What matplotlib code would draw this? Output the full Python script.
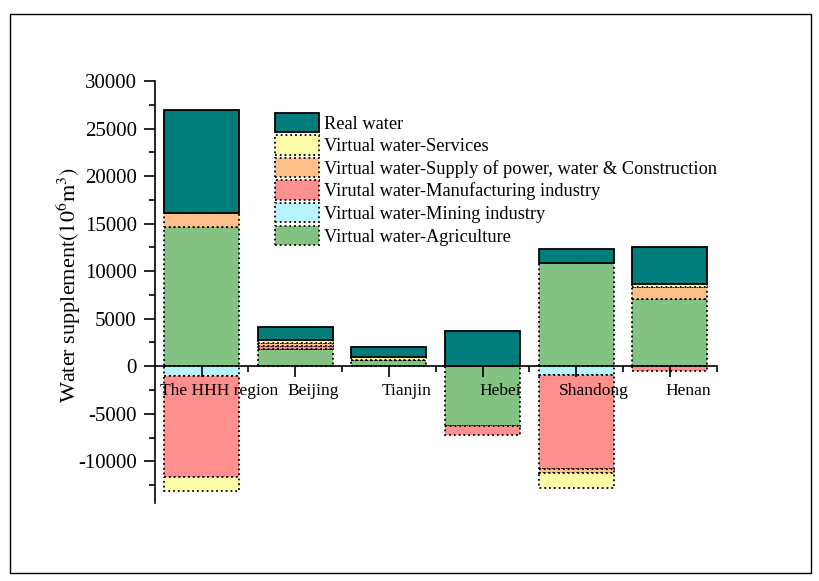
import matplotlib
matplotlib.use('Agg')
import matplotlib.pyplot as plt
import matplotlib.transforms as mtransforms
from matplotlib.patches import Patch, Rectangle
from matplotlib.ticker import MultipleLocator, FixedLocator
import numpy as np

plt.rcParams['font.family'] = 'Liberation Serif'
plt.rcParams['mathtext.fontset'] = 'stix'
plt.rcParams['axes.unicode_minus'] = False

# Water supplement by region (10^6 m^3)
categories = ['The HHH region', 'Beijing', 'Tianjin', 'Hebei', 'Shandong', 'Henan']
agriculture = [14600, 1800, 700, -6300, 10900, 7100]
mining = [-1000, 0, 0, 0, -950, 0]
manufacturing = [-10700, 350, 0, -950, -9900, -500]
supply = [1500, 300, 0, 0, -350, 1200]
services = [-1400, 350, 300, 0, -1600, 400]
real_water = [10900, 1300, 1000, 3700, 1400, 3800]

series = [
    ('Virtual water-Agriculture', agriculture, '#84c284', ':'),
    ('Virtual water-Mining industry', mining, '#b8f4fb', ':'),
    ('Virutal water-Manufacturing industry', manufacturing, '#fd8f8f', ':'),
    ('Virtual water-Supply of power, water & Construction', supply, '#fdc08a', ':'),
    ('Virtual water-Services', services, '#fdfca8', ':'),
    ('Real water', real_water, '#007c7a', '-'),
]

fig = plt.figure(figsize=(8.19, 5.81), dpi=100)
ax = fig.add_axes([0.189, 0.134, 0.686, 0.7266])

x = np.arange(1, len(categories) + 1)
pos_base = np.zeros(len(categories))
neg_base = np.zeros(len(categories))
handles = []
for label, vals, color, ls in series:
    v = np.array(vals, dtype=float)
    bottom = np.where(v >= 0, pos_base, neg_base)
    ax.bar(x, v, width=0.8, bottom=bottom, color=color, edgecolor='black',
           linewidth=1.3, linestyle=ls, zorder=2)
    pos_base += np.where(v > 0, v, 0)
    neg_base += np.where(v < 0, v, 0)
    handles.append(Patch(facecolor=color, edgecolor='black', linewidth=1.3,
                         linestyle=ls, label=label))

ax.set_axisbelow(False)
ax.set_xlim(0.5, 6.5)
ax.set_ylim(-14400, 30000)

ax.spines['top'].set_visible(False)
ax.spines['right'].set_visible(False)
ax.spines['bottom'].set_position(('data', 0))
ax.spines['left'].set_linewidth(1.2)
ax.spines['bottom'].set_linewidth(1.2)

ax.set_xticks(x)
ax.set_xticklabels(categories, fontsize=12.5)
ax.xaxis.set_minor_locator(FixedLocator(np.arange(1.5, 7.0, 1.0)))
ax.yaxis.set_major_locator(MultipleLocator(5000))
ax.yaxis.set_minor_locator(MultipleLocator(2500))
ax.tick_params(axis='both', which='major', direction='out', length=8, width=1.2, labelsize=15)
ax.tick_params(axis='x', which='major', labelsize=12.5, pad=4)
ax.tick_params(axis='y', which='major', pad=5)
ax.tick_params(axis='both', which='minor', direction='out', length=4, width=1.2)

# category names sit a little to the right of their ticks
shift = mtransforms.ScaledTranslation(18 / 100, 0, fig.dpi_scale_trans)
for t in ax.get_xticklabels():
    t.set_transform(t.get_transform() + shift)

ax.set_ylabel('Water supplement$(10^6\\mathrm{m}^3)$', fontsize=16)
ax.yaxis.set_label_coords(-0.128, 0.517)

# legend listed top-down: real water first
ax.legend(handles=handles[::-1], loc='upper left', bbox_to_anchor=(0.2135, 0.925),
          frameon=False, fontsize=13.2, handlelength=2.4, handleheight=1.25,
          labelspacing=0.15, handletextpad=0.28, borderpad=0, borderaxespad=0)

# outer frame around the figure
fig.patches.append(Rectangle((0.012, 0.014), 0.978, 0.962, transform=fig.transFigure,
                             fill=False, edgecolor='black', linewidth=1.0))

fig.savefig('out.png', dpi=100)
